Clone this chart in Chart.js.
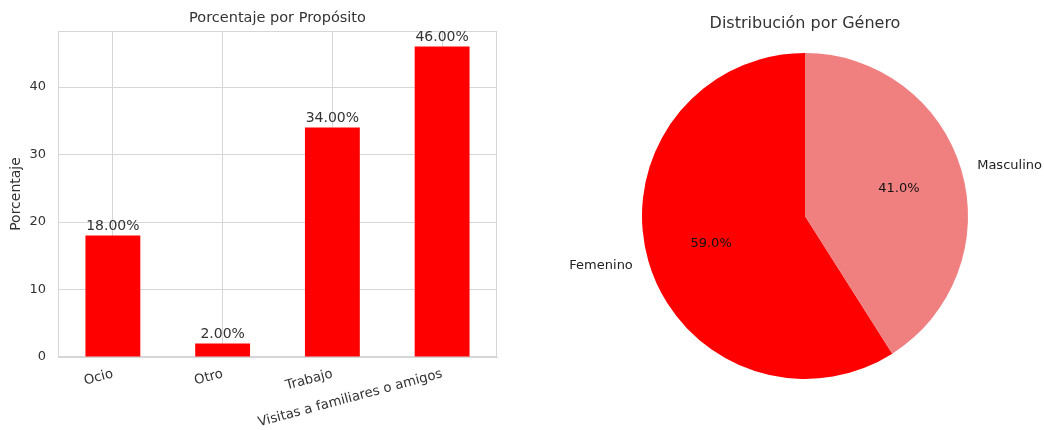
<!DOCTYPE html>
<html><head><meta charset="utf-8">
<script src="https://cdn.jsdelivr.net/npm/chart.js@4"></script>
<style>
html,body{margin:0;padding:0;background:#fff;width:1044px;height:430px;overflow:hidden}
canvas{position:absolute;top:0}
#bar{left:0}
#pie{left:520px}
</style></head><body>
<canvas id="bar" width="520" height="430"></canvas>
<canvas id="pie" width="524" height="430"></canvas>
<script>
const purposeLabels = ['Ocio', 'Otro', 'Trabajo', 'Visitas a familiares o amigos'];
const purposeValues = [18, 2, 34, 46];
const yTickValues = [0, 10, 20, 30, 40];
const genderLabels = ['Femenino', 'Masculino'];
const genderValues = [59, 41];

const FONT = "'DejaVu Sans', sans-serif";
const TXT = '#333333';
const GRID = '#d6d6d6';

const barPlugin = {
  id: 'barExtras',
  beforeDatasetsDraw(chart) {
    const {ctx, chartArea: a} = chart;
    ctx.save();
    ctx.strokeStyle = GRID;
    ctx.lineWidth = 1;
    ctx.strokeRect(a.left + 0.5, a.top + 0.5, a.right - a.left - 1, a.bottom - a.top - 1);
    ctx.restore();
  },
  afterDatasetsDraw(chart) {
    const {ctx, chartArea: a} = chart;
    const meta = chart.getDatasetMeta(0);
    ctx.save();
    ctx.font = '14px ' + FONT;
    ctx.fillStyle = TXT;
    ctx.textAlign = 'center';
    ctx.textBaseline = 'bottom';
    meta.data.forEach((el, i) => {
      ctx.fillText(purposeValues[i].toFixed(2) + '%', el.x, el.y - 2);
    });
    ctx.font = '14.5px ' + FONT;
    ctx.textBaseline = 'middle';
    ctx.fillText('Porcentaje por Propósito', (a.left + a.right) / 2, 18);
    ctx.restore();
  }
};

new Chart(document.getElementById('bar'), {
  type: 'bar',
  data: {
    labels: purposeLabels,
    datasets: [{
      data: purposeValues,
      backgroundColor: '#ff0000',
      borderWidth: 0,
      barPercentage: 0.5,
      categoryPercentage: 1.0
    }]
  },
  options: {
    responsive: false,
    animation: false,
    events: [],
    devicePixelRatio: 1,
    layout: {padding: {left: 0, right: 23, top: 31, bottom: 0}},
    plugins: {legend: {display: false}, tooltip: {enabled: false}},
    scales: {
      x: {
        grid: {color: GRID, offset: false, drawTicks: false},
        border: {color: GRID},
        ticks: {
          font: {family: FONT, size: 13.3}, color: TXT,
          minRotation: 15, maxRotation: 15, autoSkip: false, padding: 9
        },
        afterFit(s) { s.height = 73; }
      },
      y: {
        min: 0,
        max: 48.3,
        grid: {color: GRID, drawTicks: false},
        border: {color: GRID},
        ticks: {font: {family: FONT, size: 13}, color: TXT, padding: 12},
        afterBuildTicks(s) { s.ticks = yTickValues.map(v => ({value: v})); },
        title: {display: true, text: 'Porcentaje', font: {family: FONT, size: 14}, color: TXT, padding: {top: 8, bottom: 0}},
        afterFit(s) { s.width = 58; }
      }
    }
  },
  plugins: [barPlugin]
});

const genderTotal = genderValues.reduce((a, b) => a + b, 0);

const piePlugin = {
  id: 'pieExtras',
  afterDatasetsDraw(chart) {
    const {ctx} = chart;
    const meta = chart.getDatasetMeta(0);
    ctx.save();
    meta.data.forEach((arc, i) => {
      const mid = (arc.startAngle + arc.endAngle) / 2;
      const r = arc.outerRadius;
      const c = Math.cos(mid), s = Math.sin(mid);
      ctx.font = '13px ' + FONT;
      ctx.fillStyle = '#222';
      ctx.textBaseline = 'middle';
      ctx.textAlign = c >= 0 ? 'left' : 'right';
      ctx.fillText(genderLabels[i], arc.x + 1.1 * r * c, arc.y + 1.1 * r * s);
      ctx.textAlign = 'center';
      ctx.fillStyle = '#111';
      ctx.fillText((genderValues[i] / genderTotal * 100).toFixed(1) + '%', arc.x + 0.6 * r * c, arc.y + 0.6 * r * s);
    });
    ctx.font = '16px ' + FONT;
    ctx.fillStyle = TXT;
    ctx.textAlign = 'center';
    ctx.textBaseline = 'middle';
    ctx.fillText('Distribución por Género', chart.chartArea.left + (chart.chartArea.right - chart.chartArea.left) / 2, 24);
    ctx.restore();
  }
};

new Chart(document.getElementById('pie'), {
  type: 'pie',
  data: {
    labels: genderLabels,
    datasets: [{
      data: genderValues,
      backgroundColor: ['#ff0000', '#f08080'],
      borderWidth: 0,
      hoverOffset: 0,
      offset: 0
    }]
  },
  options: {
    responsive: false,
    animation: false,
    events: [],
    devicePixelRatio: 1,
    rotation: 360 * genderValues[1] / genderTotal,
    layout: {padding: {left: 122, right: 76, top: 53, bottom: 51}},
    plugins: {legend: {display: false}, tooltip: {enabled: false}}
  },
  plugins: [piePlugin]
});
</script>
</body></html>
